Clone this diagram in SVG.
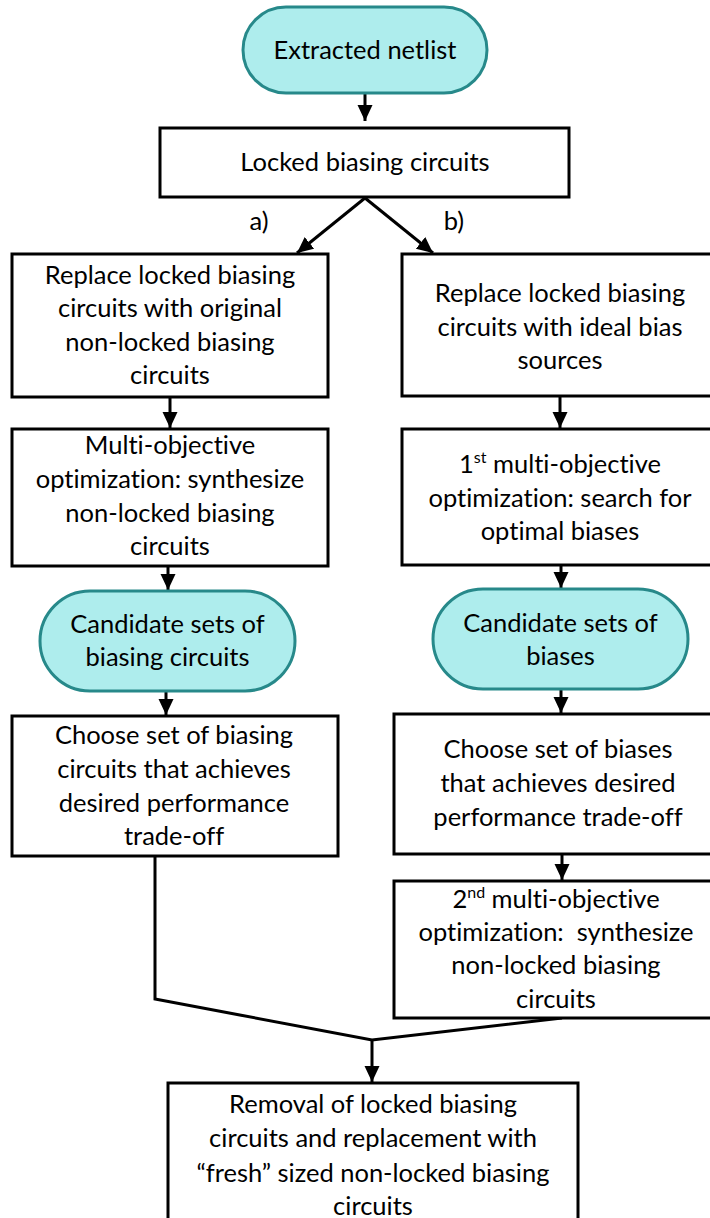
<svg xmlns="http://www.w3.org/2000/svg" width="710" height="1218" viewBox="0 0 710 1218">
  <style>
    .box { fill: #ffffff; stroke: #000000; stroke-width: 3; }
    .pill { fill: #aeeded; stroke: #27898a; stroke-width: 3; }
    .lbl { font-family: Lato, "Open Sans", sans-serif; font-size: 25.5px; fill: #000000; text-anchor: middle; font-variant-ligatures: none; font-feature-settings: "liga" 0, "clig" 0, "dlig" 0; }
    .sup { font-size: 16px; }
    .wire { fill: none; stroke: #000000; stroke-width: 3; }
  </style>
  <defs>
    <marker id="head" markerUnits="userSpaceOnUse" markerWidth="17" markerHeight="16" refX="16" refY="7.5" orient="auto">
      <path d="M0,0 L16,7.5 L0,15 z" fill="#000000"/>
    </marker>
  </defs>

  <rect width="710" height="1218" fill="#ffffff"/>

  <!-- connectors -->
  <g id="connectors">
    <line class="wire" x1="365" y1="93" x2="365" y2="121" marker-end="url(#head)"/>
    <line class="wire" x1="365" y1="198" x2="297" y2="253" marker-end="url(#head)"/>
    <line class="wire" x1="365" y1="198" x2="433" y2="253" marker-end="url(#head)"/>
    <line class="wire" x1="170" y1="397" x2="170" y2="428" marker-end="url(#head)"/>
    <line class="wire" x1="168" y1="566" x2="168" y2="590" marker-end="url(#head)"/>
    <line class="wire" x1="166" y1="691" x2="166" y2="715" marker-end="url(#head)"/>
    <line class="wire" x1="560" y1="396" x2="560" y2="428" marker-end="url(#head)"/>
    <line class="wire" x1="561" y1="565" x2="561" y2="588" marker-end="url(#head)"/>
    <line class="wire" x1="561" y1="689" x2="561" y2="713" marker-end="url(#head)"/>
    <line class="wire" x1="562" y1="854" x2="562" y2="880" marker-end="url(#head)"/>
    <polyline class="wire" points="155,856 155,999 372,1040 562,1018"/>
    <line class="wire" x1="372" y1="1040" x2="372" y2="1082" marker-end="url(#head)"/>
    <text class="lbl" x="259" y="230">a)</text>
    <text class="lbl" x="454" y="230">b)</text>
  </g>

  <g id="extracted-netlist">
    <rect class="pill" x="243" y="7" width="244" height="86" rx="43" ry="43"/>
    <text class="lbl" x="365" y="59">Extracted netlist</text>
  </g>

  <g id="locked-biasing">
    <rect class="box" x="160" y="128" width="409" height="69"/>
    <text class="lbl" x="365" y="171">Locked biasing circuits</text>
  </g>

  <!-- branch a) -->
  <g id="replace-original">
    <rect class="box" x="12" y="254" width="316" height="143"/>
    <text class="lbl" x="170" y="283.5">Replace locked biasing</text>
    <text class="lbl" x="170" y="317">circuits with original</text>
    <text class="lbl" x="170" y="350.5">non-locked biasing</text>
    <text class="lbl" x="170" y="384">circuits</text>
  </g>

  <g id="synthesize-a">
    <rect class="box" x="12" y="429" width="316" height="137"/>
    <text class="lbl" x="170" y="454">Multi-objective</text>
    <text class="lbl" x="170" y="488">optimization: synthesize</text>
    <text class="lbl" x="170" y="521.5">non-locked biasing</text>
    <text class="lbl" x="170" y="555">circuits</text>
  </g>

  <g id="candidate-circuits">
    <rect class="pill" x="40" y="591" width="255" height="100" rx="50" ry="50"/>
    <text class="lbl" x="167.5" y="633">Candidate sets of</text>
    <text class="lbl" x="167.5" y="666">biasing circuits</text>
  </g>

  <g id="choose-circuits">
    <rect class="box" x="12" y="716" width="326" height="140"/>
    <text class="lbl" x="174" y="744">Choose set of biasing</text>
    <text class="lbl" x="174" y="778">circuits that achieves</text>
    <text class="lbl" x="174" y="811.5">desired performance</text>
    <text class="lbl" x="174" y="845">trade-off</text>
  </g>

  <!-- branch b) -->
  <g id="replace-ideal">
    <rect class="box" x="402" y="254" width="330" height="142"/>
    <text class="lbl" x="560" y="302">Replace locked biasing</text>
    <text class="lbl" x="560" y="335.5">circuits with ideal bias</text>
    <text class="lbl" x="560" y="369">sources</text>
  </g>

  <g id="search-biases">
    <rect class="box" x="402" y="429" width="330" height="136"/>
    <text class="lbl" x="560" y="473">1<tspan class="sup" dy="-10">st</tspan><tspan dy="10"> multi-objective</tspan></text>
    <text class="lbl" x="560" y="506.5">optimization: search for</text>
    <text class="lbl" x="560" y="540">optimal biases</text>
  </g>

  <g id="candidate-biases">
    <rect class="pill" x="433" y="589" width="255" height="100" rx="50" ry="50"/>
    <text class="lbl" x="560.5" y="632">Candidate sets of</text>
    <text class="lbl" x="560.5" y="665">biases</text>
  </g>

  <g id="choose-biases">
    <rect class="box" x="394" y="714" width="338" height="140"/>
    <text class="lbl" x="558" y="758">Choose set of biases</text>
    <text class="lbl" x="558" y="792">that achieves desired</text>
    <text class="lbl" x="558" y="825.5">performance trade-off</text>
  </g>

  <g id="synthesize-b">
    <rect class="box" x="394" y="881" width="338" height="137"/>
    <text class="lbl" x="556" y="908">2<tspan class="sup" dy="-10">nd</tspan><tspan dy="10"> multi-objective</tspan></text>
    <text class="lbl" x="556" y="941" xml:space="preserve">optimization:  synthesize</text>
    <text class="lbl" x="556" y="974">non-locked biasing</text>
    <text class="lbl" x="556" y="1008">circuits</text>
  </g>

  <g id="replacement">
    <rect class="box" x="168" y="1083" width="410" height="150"/>
    <text class="lbl" x="373" y="1113">Removal of locked biasing</text>
    <text class="lbl" x="373" y="1147">circuits and replacement with</text>
    <text class="lbl" x="373" y="1182">“fresh” sized non-locked biasing</text>
    <text class="lbl" x="373" y="1215">circuits</text>
  </g>
</svg>
